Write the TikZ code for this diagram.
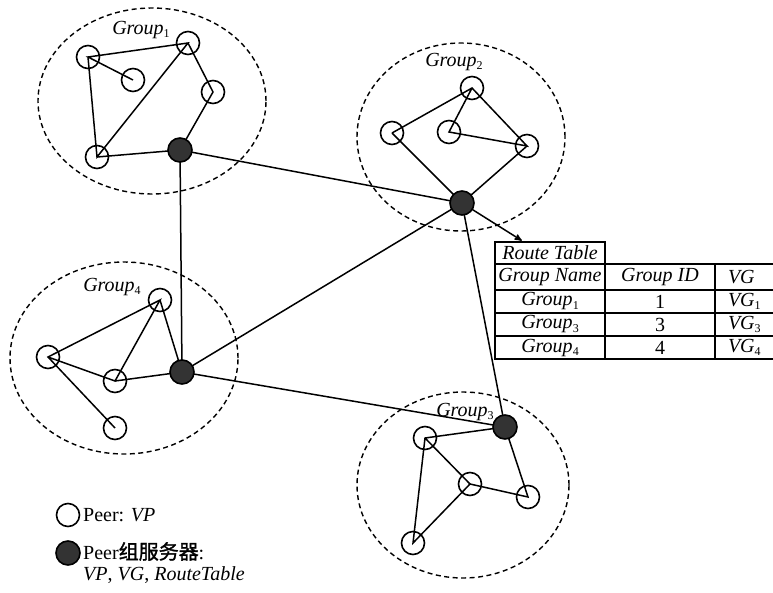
\documentclass[tikz,border=0pt]{standalone}
\usepackage{fontspec}
\setmainfont{Liberation Serif}
\newfontfamily\cjk[AutoFakeBold=1.5]{Noto Sans CJK SC}
\usepackage{tikz}
\usetikzlibrary{shapes,arrows,calc,backgrounds}
\newcommand{\grp}[1]{\textit{Group}\raisebox{-0.35ex}{\fontsize{12}{12}\selectfont\upshape #1}}
\newcommand{\vgsub}[1]{\textit{VG}\raisebox{-0.35ex}{\fontsize{12}{12}\selectfont\upshape #1}}
\tikzstyle{grupo} = [ellipse, draw=black, line width=1.4pt, dash pattern=on 5pt off 3.5pt]
\tikzstyle{peer} = [circle, draw=black, line width=1.6pt, minimum size=23pt, inner sep=0pt]
\tikzstyle{servidor} = [circle, draw=black, fill=black!80, line width=1.6pt, minimum size=24pt, inner sep=0pt]
\tikzstyle{rotulo} = [inner sep=1pt, font=\fontsize{20}{21}\selectfont]
\tikzstyle{celula} = [rectangle, draw=black, line width=2.8pt, inner sep=0pt, minimum height=23pt, font=\fontsize{20}{22}\selectfont\itshape]
\tikzstyle{link} = [line width=1.5pt]
\tikzstyle{arrow} = [line width=1.5pt,->,>=stealth']

\begin{document}
\begin{tikzpicture}[x=1pt, y=-1pt]
\useasboundingbox (0,0) rectangle (773,592);

% Grupos (elipses tracejadas)
\node (grupo1) [grupo, minimum width=228pt, minimum height=186pt] at (152,101) {};
\node (grupo2) [grupo, minimum width=208pt, minimum height=188pt] at (461,137) {};
\node (grupo3) [grupo, minimum width=212pt, minimum height=186pt] at (463,485) {};
\node (grupo4) [grupo, minimum width=228pt, minimum height=192pt] at (124,358) {};

\node (rot1) [rotulo] at (141,30) {\grp{1}};
\node (rot2) [rotulo] at (454,62) {\grp{2}};
\node (rot3) [rotulo] at (465,412) {\grp{3}};
\node (rot4) [rotulo] at (112,287) {\grp{4}};

% Grupo 1
\node (p1a) [peer] at (88,57) {};
\node (p1b) [peer] at (133,80) {};
\node (p1c) [peer] at (188,43) {};
\node (p1d) [peer] at (213,92) {};
\node (p1e) [peer] at (97,157) {};
\node (serv1) [servidor] at (180,150) {};

% Grupo 2
\node (p2a) [peer] at (472,88) {};
\node (p2b) [peer] at (392,133) {};
\node (p2c) [peer] at (449,132) {};
\node (p2d) [peer] at (527,146) {};
\node (serv2) [servidor] at (462,203) {};

% Grupo 3
\node (p3a) [peer] at (425,438) {};
\node (p3b) [peer] at (470,484) {};
\node (p3c) [peer] at (528,497) {};
\node (p3d) [peer] at (413,543) {};
\node (serv3) [servidor] at (505,427) {};

% Grupo 4
\node (p4a) [peer] at (160,300) {};
\node (p4b) [peer] at (48,357) {};
\node (p4c) [peer] at (115,381) {};
\node (p4d) [peer] at (115,428) {};
\node (serv4) [servidor] at (182,372) {};

% Tabela de rotas
\node (rt) [celula, minimum width=110pt, minimum height=22pt] at (550,253) {Route Table};
\node (nome) [celula, minimum width=110pt, minimum height=26pt] at (550,277) {Group Name};
\node (ident) [celula, minimum width=110pt, minimum height=26pt] at (660,277) {Group ID};
\node (vg) [celula, text width=44pt, inner xsep=13pt, align=left, minimum height=26pt] at (750,277) {VG};
\node (nome1) [celula, minimum width=110pt] at (550,301.5) {\grp{1}};
\node (ident1) [celula, minimum width=110pt] at (660,301.5) {\upshape 1};
\node (vg1) [celula, text width=44pt, inner xsep=13pt, align=left] at (750,301.5) {\vgsub{1}};
\node (nome3) [celula, minimum width=110pt] at (550,324.5) {\grp{3}};
\node (ident3) [celula, minimum width=110pt] at (660,324.5) {\upshape 3};
\node (vg3) [celula, text width=44pt, inner xsep=13pt, align=left] at (750,324.5) {\vgsub{3}};
\node (nome4) [celula, minimum width=110pt] at (550,347.5) {\grp{4}};
\node (ident4) [celula, minimum width=110pt] at (660,347.5) {\upshape 4};
\node (vg4) [celula, text width=44pt, inner xsep=13pt, align=left] at (750,347.5) {\vgsub{4}};

% Legenda
\node (legpeer) [peer] at (68,515) {};
\node (legtxt1) [rotulo, anchor=west] at (82,515) {Peer: \textit{VP}};
\node (legserv) [servidor] at (68,553) {};
\node (legtxt2) [rotulo, anchor=north west, align=left] at (82,541) {Peer{\cjk\bfseries 组服务器}:\\\textit{VP}, \textit{VG}, \textit{RouteTable}};

\begin{pgfonlayer}{background}
% Conexoes internas
\draw [link] (p1a.center) -- (p1e.center) -- (p1c.center) -- (p1a.center) -- (p1b.center);
\draw [link] (p1c.center) -- (p1d.center) -- (serv1.center) -- (p1e.center);
\draw [link] (p2b.center) -- (p2a.center) -- (p2d.center) -- (p2c.center) -- (p2a.center);
\draw [link] (p2b.center) -- (serv2.center) -- (p2d.center);
\draw [link] (serv3.center) -- (p3a.center) -- (p3d.center) -- (p3b.center) -- (p3a.center);
\draw [link] (p3b.center) -- (p3c.center) -- (serv3.center);
\draw [link] (p4d.center) -- (p4b.center) -- (p4a.center) -- (p4c.center) -- (p4b.center);
\draw [link] (p4a.center) -- (serv4.center) -- (p4c.center);

% Conexoes entre servidores
\draw [link] (serv1.center) -- (serv2.center);
\draw [link] (serv1.center) -- (serv4.center);
\draw [link] (serv2.center) -- (serv4.center);
\draw [link] (serv2.center) -- (serv3.center);
\draw [link] (serv4.center) -- (serv3.center);
\draw [arrow] (serv2.center) -- ($(rt.north west)!0.25!(rt.north east)$);
\end{pgfonlayer}

\end{tikzpicture}
\end{document}
